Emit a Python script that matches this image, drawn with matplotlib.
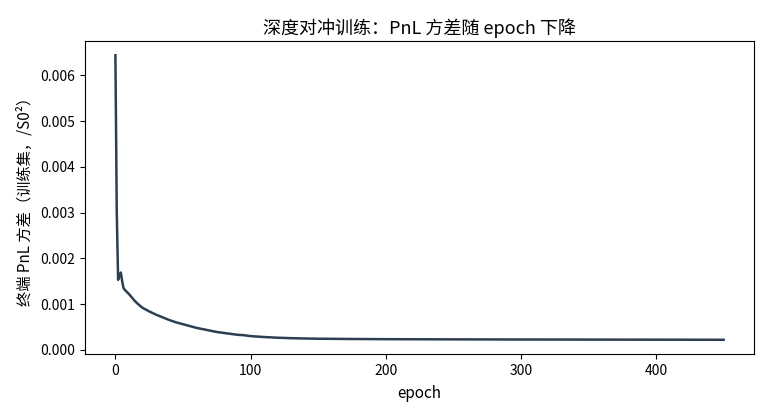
import matplotlib
matplotlib.use("Agg")
import matplotlib.pyplot as plt

plt.rcParams['font.family'] = ['Noto Sans CJK SC', 'DejaVu Sans']
plt.rcParams['axes.unicode_minus'] = False

epochs = [0, 1, 2, 3, 4, 5, 6, 7, 8, 9, 10, 12, 14, 16, 18, 20, 25, 30, 35, 40,
          45, 50, 55, 60, 65, 70, 75, 80, 85, 90, 95, 100, 110, 120, 130, 140,
          150, 175, 200, 250, 300, 350, 400, 450]
pnl_var = [0.00644, 0.00300, 0.00153, 0.00162, 0.00169, 0.00150, 0.00135, 0.00131,
           0.00128, 0.00125, 0.00122, 0.00115, 0.00108, 0.00102, 0.00097, 0.00092,
           0.00084, 0.00077, 0.00071, 0.00065, 0.00060, 0.00056, 0.00052, 0.00048,
           0.00045, 0.00042, 0.00039, 0.00037, 0.00035, 0.00033, 0.00032, 0.00030,
           0.00028, 0.000265, 0.000255, 0.000248, 0.000243, 0.000237, 0.000233,
           0.000229, 0.000226, 0.000224, 0.000222, 0.000220]

title = "深度对冲训练：PnL 方差随 epoch 下降"
xlabel = "epoch"
ylabel = "终端 PnL 方差（训练集，/S0²）"

fig = plt.figure(figsize=(7.7, 4.18), dpi=100)
ax = fig.add_axes([85/770, 1-354/418, (754-85)/770, (354-41)/418])
ax.plot(epochs, pnl_var, color="#2c3e50", linewidth=1.8)
ax.set_title(title, fontsize=13, pad=5)
ax.set_xlabel(xlabel, fontsize=11, labelpad=5)
ax.set_ylabel(ylabel, fontsize=11, labelpad=5)
ax.tick_params(labelsize=10)
ax.set_xticks([0, 100, 200, 300, 400])
ax.set_yticks([0.000, 0.001, 0.002, 0.003, 0.004, 0.005, 0.006])
ax.set_yticklabels(["0.000", "0.001", "0.002", "0.003", "0.004", "0.005", "0.006"])
fig.savefig("out.png", dpi=100)
